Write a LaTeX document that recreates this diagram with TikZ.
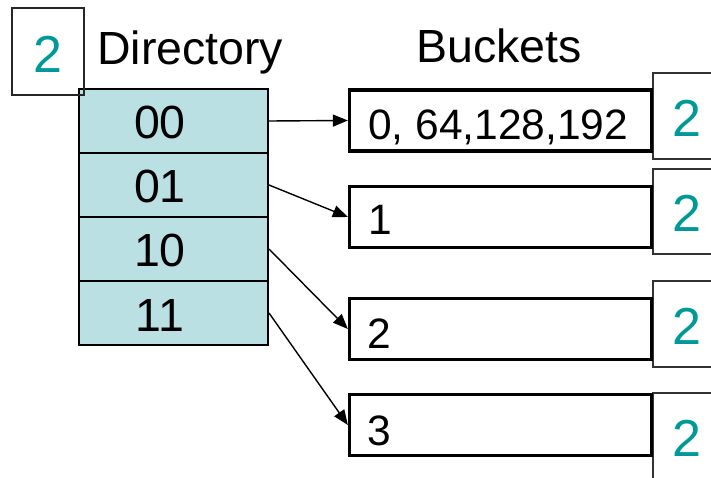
\documentclass[tikz,border=0pt]{standalone}
\usepackage{fontspec}
\setmainfont{Liberation Sans}
\usetikzlibrary{arrows.meta}
\definecolor{cellblue}{RGB}{187,224,227}
\definecolor{teal2}{RGB}{0,153,153}
\begin{document}
\begin{tikzpicture}[x=1bp,y=-1bp,
  dircell/.style={draw=black,fill=cellblue,line width=2bp,minimum width=189bp,minimum height=64bp,inner sep=0pt},
  bucket/.style={draw=black,line width=3.3bp,minimum width=302bp,minimum height=61bp,inner sep=0pt},
  depthbox/.style={draw=black!80,line width=1.2bp,fill=white,minimum width=72bp,inner sep=0pt},
  bigtxt/.style={font=\fontsize{46.5bp}{54bp}\selectfont,inner sep=0pt,anchor=base},
  buctxt/.style={font=\fontsize{42.5bp}{50bp}\selectfont,inner sep=0pt,anchor=base west},
  depthtxt/.style={font=\fontsize{52bp}{60bp}\selectfont,text=teal2,inner sep=0pt,anchor=base},
  ptr/.style={line width=1.4bp,-{Triangle[length=15bp,width=12bp]}}]
\useasboundingbox (0,0) rectangle (711,478);
% local depth boxes
\node[depthbox,minimum height=86bp] (ld0) at (689,116) {};
\node[depthbox,minimum height=85bp] (ld1) at (689,211.5) {};
\node[depthbox,minimum height=86bp] (ld2) at (689,324) {};
\node[depthbox,minimum height=86bp] (ld3) at (689,436) {};
\node[depthtxt] (ldt0) at (687,137) {2};
\node[depthtxt] (ldt1) at (687,232) {2};
\node[depthtxt] (ldt2) at (687,344) {2};
\node[depthtxt] (ldt3) at (687,456) {2};
% buckets
\node[bucket] (b0) at (500.5,120.5) {};
\node[bucket] (b1) at (500.5,217) {};
\node[bucket] (b2) at (500.5,329) {};
\node[bucket] (b3) at (500.5,425) {};
\node[buctxt] (bt0) at (368,140) {0, 64,128,192};
\node[buctxt] (bt1) at (368,235) {1};
\node[buctxt] (bt2) at (367,348) {2};
\node[buctxt] (bt3) at (367,445) {3};
% directory
\node[dircell] (d0) at (173.5,121) {};
\node[dircell] (d1) at (173.5,185) {};
\node[dircell] (d2) at (173.5,249) {};
\node[dircell] (d3) at (173.5,313) {};
\node[bigtxt] (dt0) at (160,139) {00};
\node[bigtxt] (dt1) at (160,203) {01};
\node[bigtxt] (dt2) at (160,267) {10};
\node[bigtxt] (dt3) at (160,331) {11};
% global depth
\node[draw=black!85,line width=1.4bp,minimum width=72bp,minimum height=87bp,inner sep=0pt] (gd) at (48,51.5) {};
\node[depthtxt] (gdt) at (48,73) {2};
% titles
\node[bigtxt,anchor=base west] (dirt) at (97,65) {Directory};
\node[bigtxt,anchor=base west] (buct) at (416,63) {Buckets};
% pointers
\draw[ptr] (d0.east) -- (b0.west);
\draw[ptr] (d1.east) -- (b1.west);
\draw[ptr] (d2.east) -- (b2.west);
\draw[ptr] (d3.east) -- (b3.west);
\end{tikzpicture}
\end{document}
